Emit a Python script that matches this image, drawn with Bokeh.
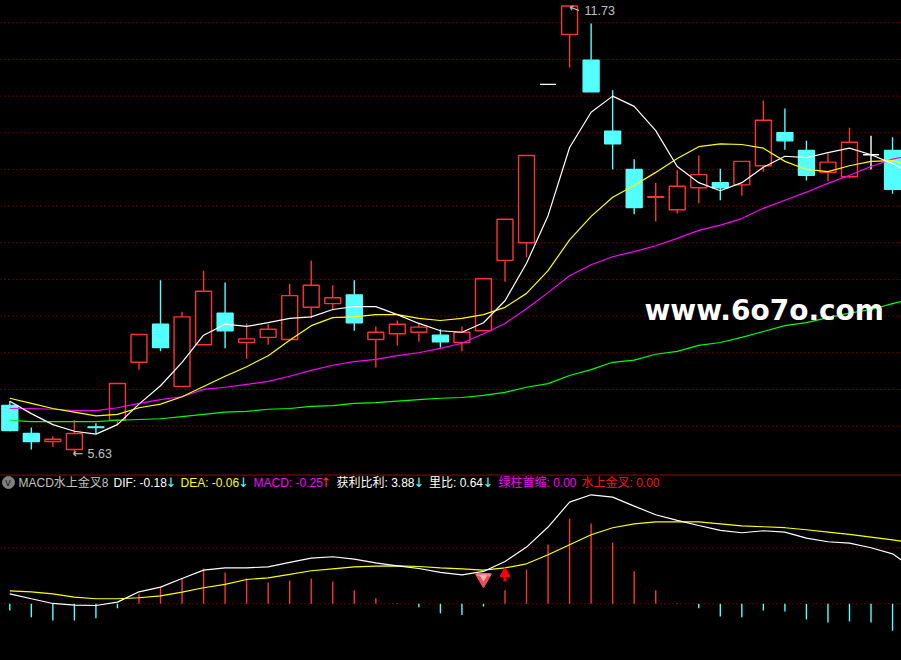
from bokeh.plotting import figure
from bokeh.layouts import column
from bokeh.models import ColumnDataSource, Label, Range1d, GlobalInlineStyleSheet
from bokeh.embed import file_html
from bokeh.resources import INLINE

opens = [6.28,5.90,5.79,5.68,5.99,6.08,6.87,7.39,6.54,7.11,7.54,7.14,7.21,7.18,7.62,7.67,7.79,7.18,7.26,7.28,7.24,7.14,7.30,8.26,8.50,10.66,11.34,10.99,10.02,9.50,9.12,8.95,9.25,9.32,9.29,9.55,10.00,9.76,9.46,9.40,9.70,9.76]
closes = [5.94,5.79,5.82,5.90,5.98,6.58,7.25,7.07,7.49,7.84,7.30,7.19,7.32,7.78,7.92,7.75,7.41,7.28,7.39,7.35,7.15,7.28,8.01,8.82,9.69,10.66,11.73,10.56,9.85,8.98,9.13,9.27,9.43,9.25,9.61,10.17,9.89,9.42,9.60,9.87,9.70,9.23]
highs = [6.34,5.98,5.86,6.08,6.04,6.58,7.25,7.99,7.56,8.12,7.96,7.40,7.39,7.94,8.26,7.92,7.99,7.36,7.44,7.41,7.32,7.36,8.01,8.82,9.69,10.66,11.73,11.49,10.58,9.64,9.32,9.49,9.69,9.51,9.61,10.44,10.33,9.89,9.72,10.07,9.96,9.94]
lows = [5.93,5.68,5.72,5.63,5.90,6.02,6.77,7.02,6.54,7.11,7.06,6.92,7.11,7.18,7.47,7.59,7.30,6.80,7.10,7.15,7.07,7.02,7.30,7.97,8.30,10.66,10.89,10.56,9.50,8.89,8.79,8.90,9.04,9.08,9.14,9.47,9.77,9.35,9.34,9.38,9.50,9.17]

ma_white = [6.34,6.17,6.02,5.93,5.89,6.02,6.30,6.55,6.87,7.24,7.39,7.36,7.41,7.47,7.49,7.59,7.63,7.63,7.52,7.40,7.30,7.28,7.41,7.71,8.22,8.87,9.80,10.28,10.50,10.36,10.03,9.54,9.32,9.21,9.32,9.53,9.68,9.66,9.73,9.79,9.70,9.58,9.42]
ma_yellow = [6.38,6.31,6.24,6.19,6.14,6.16,6.25,6.30,6.40,6.54,6.68,6.81,6.96,7.17,7.37,7.48,7.49,7.52,7.52,7.47,7.44,7.47,7.52,7.62,7.81,8.12,8.54,8.86,9.12,9.28,9.46,9.65,9.81,9.85,9.84,9.79,9.61,9.50,9.47,9.55,9.61,9.62,9.55]
ma_magenta = [6.24,6.24,6.23,6.21,6.21,6.25,6.31,6.36,6.40,6.50,6.53,6.57,6.61,6.68,6.76,6.83,6.88,6.91,6.96,7.00,7.06,7.13,7.26,7.40,7.60,7.82,8.05,8.20,8.31,8.38,8.46,8.56,8.67,8.74,8.83,8.97,9.08,9.19,9.31,9.42,9.54,9.64,9.70]
ma_green = [6.08,6.06,6.06,6.06,6.06,6.08,6.09,6.10,6.13,6.16,6.19,6.20,6.23,6.24,6.27,6.28,6.31,6.32,6.34,6.36,6.38,6.39,6.42,6.46,6.53,6.58,6.69,6.77,6.87,6.90,6.98,7.02,7.10,7.14,7.21,7.29,7.37,7.41,7.48,7.54,7.59,7.67,7.74]

macd = [-0.06,-0.12,-0.15,-0.15,-0.13,-0.04,0.09,0.155,0.23,0.315,0.28,0.226,0.19,0.208,0.226,0.20,0.12,0.05,0.005,-0.03,-0.085,-0.10,-0.024,0.12,0.306,0.53,0.76,0.717,0.547,0.29,0.12,0.005,-0.04,-0.113,-0.12,-0.06,-0.068,-0.14,-0.167,-0.158,-0.167,-0.24]
dif = [0.089,0.045,0.003,-0.012,-0.015,0.015,0.107,0.149,0.226,0.301,0.321,0.321,0.33,0.369,0.408,0.42,0.399,0.366,0.339,0.315,0.28,0.259,0.289,0.378,0.506,0.685,0.908,0.973,0.952,0.872,0.795,0.744,0.699,0.655,0.634,0.652,0.64,0.586,0.554,0.542,0.50,0.446,0.3125]
dea = [0.116,0.107,0.089,0.06,0.045,0.045,0.054,0.071,0.104,0.143,0.173,0.217,0.232,0.262,0.295,0.3125,0.33,0.336,0.339,0.333,0.321,0.3125,0.30,0.321,0.357,0.4375,0.527,0.616,0.679,0.714,0.732,0.732,0.732,0.714,0.696,0.6875,0.679,0.661,0.64,0.619,0.595,0.571,0.542]

price_grid = [6.0,6.5,7.0,7.5,8.0,8.5,9.0,9.5,10.0,10.5,11.0,11.5]
macd_grid = [0.0,0.5]
low_label, high_label = "5.63", "11.73"
watermark = "www.6o7o.com"
header_texts = ["MACD水上金叉8","DIF: -0.18","↓","DEA: -0.06","↓","MACD: -0.25","↑","获利比利: 3.88","↓","里比: 0.64","↓","绿柱首缩: 0.00","水上金叉: 0.00"]

RED, CYAN, GRID = "#ff3232", "#54ffff", "#c00000"
header_colors = ["#c0c0c0","#ffffff",CYAN,"#ffff00",CYAN,"#ff00ff",RED,"#ffffff",CYAN,"#ffffff",CYAN,"#ff00ff","#ff1010"]
header_x = [18,113,165,180,237.5,253,320,336,413,428.5,482,498,581]
FONT = "Liberation Sans, Noto Sans CJK SC"

xr = (-0.432, 41.416)
idx = list(range(len(opens)))
line_idx = list(range(len(ma_white)))

def panel(height, lo, hi):
    f = figure(width=901, height=height, x_range=Range1d(*xr), y_range=Range1d(lo, hi),
               x_axis_type=None, y_axis_type=None, toolbar_location=None, output_backend="svg",
               background_fill_color="#000000", border_fill_color="#000000", min_border=0)
    f.outline_line_color = None
    return f

top = panel(474, 5.340, 11.804)
for g in price_grid:
    top.line([xr[0], xr[1]], [g, g], line_color=GRID, line_width=1, line_dash="1 3")

wick_col = [RED if c > o else (CYAN if c < o else "#ffffff") for o, c in zip(opens, closes)]
fill_col = ["#000000" if c > o else (CYAN if c < o else "#ffffff") for o, c in zip(opens, closes)]
src = ColumnDataSource(dict(x=idx, o=opens, c=closes, h=highs, l=lows, wick=wick_col, fill=fill_col,
                            b=[min(a, b) for a, b in zip(opens, closes)], t=[max(a, b) for a, b in zip(opens, closes)]))
top.segment("x", "l", "x", "h", source=src, line_color="wick", line_width=1.4)
top.vbar("x", 0.74, "b", "t", source=src, fill_color="fill", line_color="wick", line_width=1.4)
for series, color in ((ma_green, "#00ff00"), (ma_magenta, "#ff00ff"), (ma_yellow, "#ffff00"), (ma_white, "#ffffff")):
    top.line(line_idx, series, line_color=color, line_width=1.2)

for kw in (
    dict(x=87, y=21, text=low_label, text_color="#c0c0c0", text_font_size="12.5px", text_font=FONT),
    dict(x=72, y=21, text="←", text_color="#c0c0c0", text_font_size="13px", text_font="DejaVu Sans"),
    dict(x=584, y=464, text=high_label, text_color="#c0c0c0", text_font_size="12.5px", text_font=FONT),
    dict(x=569, y=468, text="←", text_color="#c0c0c0", text_font_size="13px", text_font="DejaVu Sans", angle=-0.35),
    dict(x=644, y=164, text=watermark, text_color="#ffffff", text_font_size="28px", text_font="DejaVu Sans", text_font_style="bold"),
):
    top.add_layout(Label(x_units="screen", y_units="screen", text_baseline="middle", **kw))

bot = panel(186, -0.506, 1.154)
bot.line([xr[0], xr[1]], [1.15, 1.15], line_color="#b00000", line_width=1.2)
for g in macd_grid:
    bot.line([xr[0], xr[1]], [g, g], line_color=GRID, line_width=1, line_dash="1 3")
bar_col = [RED if m > 0 else CYAN for m in macd]
bot.segment(idx, [0] * len(idx), idx, macd, line_color=bar_col, line_width=1.4)
bot.line(line_idx, dea, line_color="#ffff00", line_width=1.2)
bot.line(line_idx, dif, line_color="#ffffff", line_width=1.2)

# signals: gem at the golden cross bar, arrow on the next bar
bot.scatter([22], [0.225], marker="inverted_triangle", size=16, fill_color="#e8505a", line_color="#e8505a")
bot.scatter([22], [0.26], marker="dash", size=14, line_color="#f08088", line_width=3)
bot.scatter([22], [0.235], marker="inverted_triangle", size=6, fill_color="#ffb0b0", line_color="#ffb0b0")
bot.segment([23], [0.2], [23], [0.27], line_color="#ff0000", line_width=3)
bot.scatter([23], [0.27], marker="triangle", size=10, fill_color="#ff0000", line_color="#ff0000")

for x, t, c in zip(header_x, header_texts, header_colors):
    is_arrow = t in ("↓", "↑")
    bot.add_layout(Label(x=x, y=178, x_units="screen", y_units="screen", text=t, text_color=c,
                         text_font_size="13px" if is_arrow else "12px",
                         text_font="DejaVu Sans" if is_arrow else FONT, text_baseline="middle"))
bot.scatter([-0.06], [1.083], marker="circle", size=12, fill_color="#808080", line_color="#808080")
bot.add_layout(Label(x=4.5, y=178, x_units="screen", y_units="screen", text="v", text_color="#202020",
                     text_font_size="10px", text_font="DejaVu Sans", text_baseline="middle"))

page = column(top, bot, spacing=0, width=901, height=660,
              stylesheets=[GlobalInlineStyleSheet(css="html,body{margin:0;padding:0;background:#000;overflow:hidden}")])
open("out.html", "w").write(file_html(page, INLINE))
